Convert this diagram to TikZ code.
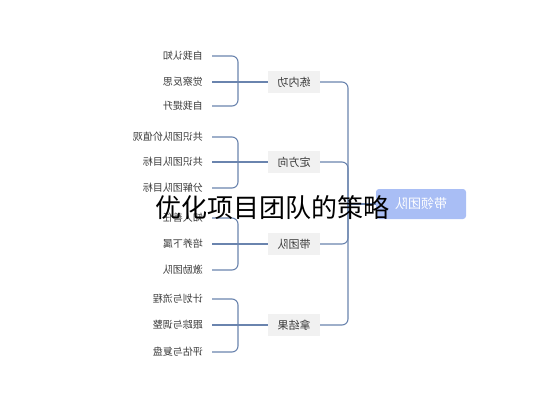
\documentclass[tikz,border=0pt]{standalone}
\usepackage{fontspec}
\setmainfont{Noto Sans CJK SC}
\usepackage{graphicx}

\definecolor{linkblue}{HTML}{6A84AE}
\definecolor{rootblue}{HTML}{A9BEF5}
\definecolor{boxgrey}{HTML}{F1F1F1}
\definecolor{textgrey}{HTML}{3A3A3A}
\newcommand{\flip}[1]{\reflectbox{#1}}

\begin{document}
\begin{tikzpicture}[x=1pt, y=-1pt,
	leaf/.style={anchor=east, inner xsep=9pt, font=\fontsize{10}{12}\selectfont, text=textgrey},
	group/.style={fill=boxgrey, minimum width=52pt, minimum height=22pt, inner sep=0pt,
		font=\fontsize{11}{13}\selectfont, text=textgrey},
	root/.style={fill=rootblue, rounded corners=3pt, minimum width=90pt, minimum height=30pt,
		inner sep=0pt, font=\fontsize{13}{15}\selectfont, text=white},
	link/.style={draw=linkblue, line width=1.1pt, rounded corners=6pt}]
	\useasboundingbox (0,0) rectangle (544,400);

	% root
	\node[root] (root) at (421,204) {\flip{带领团队}};
	\coordinate (hub) at (348,204);

	% group 1
	\node[leaf] (l11) at (212,56) {\flip{自我认知}};
	\node[leaf] (l12) at (212,82) {\flip{觉察反思}};
	\node[leaf] (l13) at (212,106) {\flip{自我提升}};
	\node[group] (g1) at (294,82) {\flip{练内功}};
	\coordinate (b1) at (238,82);
	\draw[link] (l11.east) -| (b1);
	\draw[link] (l13.east) -| (b1);
	\draw[link] (l12.east) -- (g1.west);

	% group 2
	\node[leaf] (l21) at (212,137) {\flip{共识团队价值观}};
	\node[leaf] (l22) at (212,162) {\flip{共识团队目标}};
	\node[leaf] (l23) at (212,188) {\flip{分解团队目标}};
	\node[group] (g2) at (294,162) {\flip{定方向}};
	\coordinate (b2) at (238,162);
	\draw[link] (l21.east) -| (b2);
	\draw[link] (l23.east) -| (b2);
	\draw[link] (l22.east) -- (g2.west);

	% group 3
	\node[leaf] (l31) at (212,218) {\flip{知人善任}};
	\node[leaf] (l32) at (212,244) {\flip{培养下属}};
	\node[leaf] (l33) at (212,270) {\flip{激励团队}};
	\node[group] (g3) at (294,244) {\flip{带团队}};
	\coordinate (b3) at (238,244);
	\draw[link] (l31.east) -| (b3);
	\draw[link] (l33.east) -| (b3);
	\draw[link] (l32.east) -- (g3.west);

	% group 4
	\node[leaf] (l41) at (212,299) {\flip{计划与流程}};
	\node[leaf] (l42) at (212,325) {\flip{跟踪与调整}};
	\node[leaf] (l43) at (212,352) {\flip{评估与复盘}};
	\node[group] (g4) at (294,325) {\flip{拿结果}};
	\coordinate (b4) at (238,325);
	\draw[link] (l41.east) -| (b4);
	\draw[link] (l43.east) -| (b4);
	\draw[link] (l42.east) -- (g4.west);

	% spine
	\draw[link] (g1.east) -| (hub);
	\draw[link] (g2.east) -| (hub);
	\draw[link] (g3.east) -| (hub);
	\draw[link] (g4.east) -| (hub);
	\draw[link] (hub) -- (root.west);

	% title
	\node[font=\fontsize{26}{30}\selectfont, text=black] (title) at (272,208) {优化项目团队的策略};
\end{tikzpicture}
\end{document}
